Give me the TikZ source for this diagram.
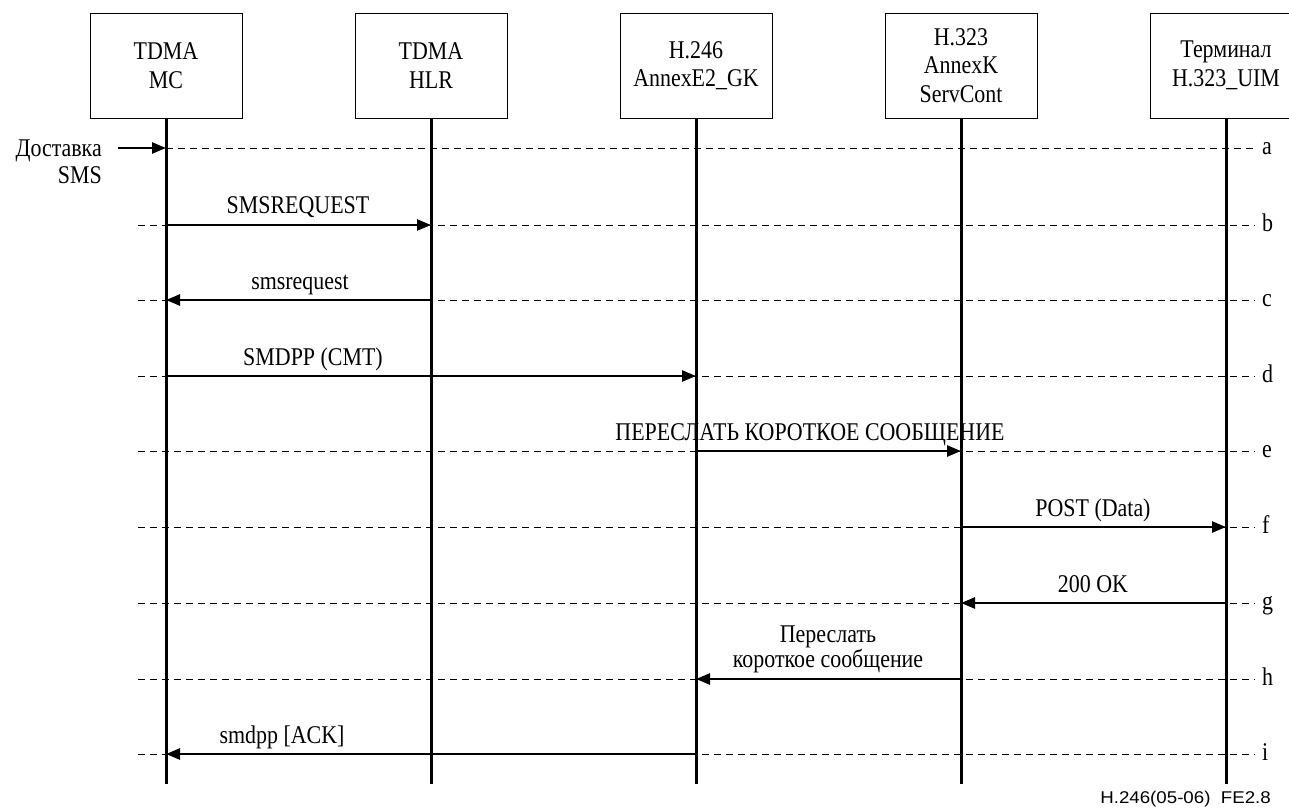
\documentclass[tikz,border=0pt]{standalone}
\usepackage{fontspec}
\setmainfont{Liberation Serif}[FakeStretch=0.86]
\newfontfamily\figsans{Liberation Sans}[FakeStretch=1.1]
\usetikzlibrary{arrows.meta}
\begin{document}
\begin{tikzpicture}[x={(1pt,0pt)}, y={(0pt,-1pt)},
  entity/.style={draw, line width=1pt, minimum width=152pt, minimum height=105pt,
    inner sep=0pt, align=center, font=\fontsize{25.5}{28.5}\selectfont},
  lifeline/.style={line width=3pt},
  guide/.style={line width=0.9pt, dash pattern=on 7pt off 5pt},
  msg/.style={line width=2.5pt, -{Triangle[length=14pt,width=11pt]}},
  lbl/.style={font=\fontsize{25.5}{23}\selectfont, inner sep=0pt, anchor=base, align=center},
  tag/.style={font=\fontsize{25.5}{24}\selectfont, inner sep=0pt, anchor=base west}]
\clip (0,0) rectangle (1289,809);

% participants
\node[entity] (mc)  at (166,65.5)  {TDMA\\MC};
\node[entity] (hlr) at (431,65.5)  {TDMA\\HLR};
\node[entity] (gk)  at (696,65.5)  {H.246\\AnnexE2\_GK};
\node[entity] (sc)  at (961,65.5)  {H.323\\AnnexK\\ServCont};
\node[entity] (ut)  at (1226,65.5) {Терминал\\H.323\_UIM};

% message rows
\coordinate (ra) at (0,148);
\coordinate (rb) at (0,225);
\coordinate (rc) at (0,300);
\coordinate (rd) at (0,376);
\coordinate (re) at (0,451);
\coordinate (rf) at (0,527);
\coordinate (rg) at (0,603);
\coordinate (rh) at (0,679);
\coordinate (ri) at (0,754);
\coordinate (bottom) at (0,784);

% dashed guides with row letters
\draw[guide] (mc.south |- ra) -- (1255,148);
\node[tag] (ta) at (1262,154) {a};
\foreach \r/\y in {b/225,c/300,d/376,e/451,f/527,g/603,h/679,i/754}{
  \draw[guide] (138,\y) -- (1255,\y);
  \node[tag] (t\r) at (1262,\y+6) {\r};
}

% lifelines
\foreach \p in {mc,hlr,gk,sc,ut}
  \draw[lifeline] (\p.south) -- (\p.south |- bottom);

% incoming delivery
\node[lbl, anchor=east, align=right, font=\fontsize{25.5}{27}\selectfont] (src) at (102,161.5) {Доставка\\SMS};
\coordinate (srcend) at (118,148);
\draw[msg] (srcend) -- (mc.south |- ra);

% messages
\draw[msg] (mc.south |- rb) -- (hlr.south |- rb);
\node[lbl] (lb) at (298,213) {SMSREQUEST};

\draw[msg] (hlr.south |- rc) -- (mc.south |- rc);
\node[lbl] (lc) at (300,289) {smsrequest};

\draw[msg] (mc.south |- rd) -- (gk.south |- rd);
\node[lbl] (ld) at (313,365) {SMDPP (CMT)};

\draw[msg] (gk.south |- re) -- (sc.south |- re);
\node[lbl] (le) at (810,440) {ПЕРЕСЛАТЬ КОРОТКОЕ СООБЩЕНИЕ};

\draw[msg] (sc.south |- rf) -- (ut.south |- rf);
\node[lbl] (lf) at (1093,516) {POST (Data)};

\draw[msg] (ut.south |- rg) -- (sc.south |- rg);
\node[lbl] (lg) at (1093,592) {200 OK};

\draw[msg] (sc.south |- rh) -- (gk.south |- rh);
\node[lbl, anchor=south] (lh) at (828,673) {Переслать\\короткое сообщение};

\draw[msg] (gk.south |- ri) -- (mc.south |- ri);
\node[lbl] (li) at (282,743) {smdpp [ACK]};

% figure reference
\node[inner sep=0pt, anchor=base east, font=\figsans\fontsize{17}{18}\selectfont] (ref)
  at (1271,803) {H.246(05-06)\ \ FE2.8};
\end{tikzpicture}
\end{document}
